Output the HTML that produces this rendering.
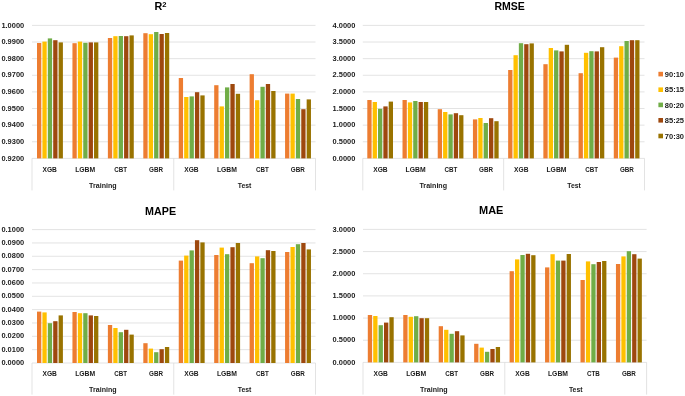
<!DOCTYPE html>
<html lang="en"><head><meta charset="utf-8"><title>Model metrics by split</title>
<style>html,body{margin:0;padding:0;background:#fff}svg{display:block;will-change:transform}text{font-family:"Liberation Sans", Arial, sans-serif;fill:#1a1a1a}.y{font-size:8.1px;text-anchor:end;font-weight:bold}.c{font-size:7.5px;text-anchor:middle;font-weight:bold}.t{font-size:10.8px;text-anchor:middle;font-weight:bold;fill:#000}.l{font-size:8.1px;font-weight:bold}</style></head><body>
<svg width="685" height="396" viewBox="0 0 685 396">
<rect width="685" height="396" fill="#fff"/>
<g>
<line x1="32.0" y1="25.40" x2="315.5" y2="25.40" stroke="#D9D9D9" stroke-width="0.75"/>
<line x1="32.0" y1="42.02" x2="315.5" y2="42.02" stroke="#D9D9D9" stroke-width="0.75"/>
<line x1="32.0" y1="58.65" x2="315.5" y2="58.65" stroke="#D9D9D9" stroke-width="0.75"/>
<line x1="32.0" y1="75.28" x2="315.5" y2="75.28" stroke="#D9D9D9" stroke-width="0.75"/>
<line x1="32.0" y1="91.90" x2="315.5" y2="91.90" stroke="#D9D9D9" stroke-width="0.75"/>
<line x1="32.0" y1="108.53" x2="315.5" y2="108.53" stroke="#D9D9D9" stroke-width="0.75"/>
<line x1="32.0" y1="125.15" x2="315.5" y2="125.15" stroke="#D9D9D9" stroke-width="0.75"/>
<line x1="32.0" y1="141.78" x2="315.5" y2="141.78" stroke="#D9D9D9" stroke-width="0.75"/>
<line x1="32.0" y1="158.40" x2="315.5" y2="158.40" stroke="#D9D9D9" stroke-width="0.75"/>
<line x1="32.00" y1="158.40" x2="32.00" y2="190.40" stroke="#D9D9D9" stroke-width="0.75"/>
<line x1="173.75" y1="158.40" x2="173.75" y2="190.40" stroke="#D9D9D9" stroke-width="0.75"/>
<line x1="315.50" y1="158.40" x2="315.50" y2="190.40" stroke="#D9D9D9" stroke-width="0.75"/>
<rect x="37.00" y="43.00" width="4.30" height="115.40" fill="#ED7D31"/>
<rect x="42.40" y="41.60" width="4.30" height="116.80" fill="#FFC000"/>
<rect x="47.80" y="38.40" width="4.30" height="120.00" fill="#70AD47"/>
<rect x="53.20" y="40.20" width="4.30" height="118.20" fill="#9E480E"/>
<rect x="58.60" y="42.40" width="4.30" height="116.00" fill="#997300"/>
<rect x="72.44" y="43.20" width="4.30" height="115.20" fill="#ED7D31"/>
<rect x="77.84" y="41.60" width="4.30" height="116.80" fill="#FFC000"/>
<rect x="83.24" y="42.80" width="4.30" height="115.60" fill="#70AD47"/>
<rect x="88.64" y="42.40" width="4.30" height="116.00" fill="#9E480E"/>
<rect x="94.04" y="42.40" width="4.30" height="116.00" fill="#997300"/>
<rect x="107.88" y="38.00" width="4.30" height="120.40" fill="#ED7D31"/>
<rect x="113.28" y="36.20" width="4.30" height="122.20" fill="#FFC000"/>
<rect x="118.67" y="36.00" width="4.30" height="122.40" fill="#70AD47"/>
<rect x="124.08" y="36.20" width="4.30" height="122.20" fill="#9E480E"/>
<rect x="129.47" y="35.40" width="4.30" height="123.00" fill="#997300"/>
<rect x="143.31" y="33.20" width="4.30" height="125.20" fill="#ED7D31"/>
<rect x="148.71" y="34.20" width="4.30" height="124.20" fill="#FFC000"/>
<rect x="154.11" y="32.00" width="4.30" height="126.40" fill="#70AD47"/>
<rect x="159.51" y="34.00" width="4.30" height="124.40" fill="#9E480E"/>
<rect x="164.91" y="33.00" width="4.30" height="125.40" fill="#997300"/>
<rect x="178.75" y="78.00" width="4.30" height="80.40" fill="#ED7D31"/>
<rect x="184.15" y="97.00" width="4.30" height="61.40" fill="#FFC000"/>
<rect x="189.55" y="96.40" width="4.30" height="62.00" fill="#70AD47"/>
<rect x="194.95" y="92.20" width="4.30" height="66.20" fill="#9E480E"/>
<rect x="200.35" y="95.40" width="4.30" height="63.00" fill="#997300"/>
<rect x="214.19" y="85.20" width="4.30" height="73.20" fill="#ED7D31"/>
<rect x="219.59" y="106.40" width="4.30" height="52.00" fill="#FFC000"/>
<rect x="224.99" y="87.40" width="4.30" height="71.00" fill="#70AD47"/>
<rect x="230.39" y="84.00" width="4.30" height="74.40" fill="#9E480E"/>
<rect x="235.79" y="93.80" width="4.30" height="64.60" fill="#997300"/>
<rect x="249.62" y="74.20" width="4.30" height="84.20" fill="#ED7D31"/>
<rect x="255.03" y="100.20" width="4.30" height="58.20" fill="#FFC000"/>
<rect x="260.43" y="86.80" width="4.30" height="71.60" fill="#70AD47"/>
<rect x="265.82" y="84.00" width="4.30" height="74.40" fill="#9E480E"/>
<rect x="271.23" y="91.00" width="4.30" height="67.40" fill="#997300"/>
<rect x="285.06" y="93.60" width="4.30" height="64.80" fill="#ED7D31"/>
<rect x="290.46" y="93.60" width="4.30" height="64.80" fill="#FFC000"/>
<rect x="295.86" y="99.00" width="4.30" height="59.40" fill="#70AD47"/>
<rect x="301.26" y="109.20" width="4.30" height="49.20" fill="#9E480E"/>
<rect x="306.66" y="99.40" width="4.30" height="59.00" fill="#997300"/>
<text class="y" x="24.2" y="27.55" textLength="22.8" lengthAdjust="spacingAndGlyphs">1.0000</text>
<text class="y" x="24.2" y="44.17" textLength="22.8" lengthAdjust="spacingAndGlyphs">0.9900</text>
<text class="y" x="24.2" y="60.80" textLength="22.8" lengthAdjust="spacingAndGlyphs">0.9800</text>
<text class="y" x="24.2" y="77.43" textLength="22.8" lengthAdjust="spacingAndGlyphs">0.9700</text>
<text class="y" x="24.2" y="94.05" textLength="22.8" lengthAdjust="spacingAndGlyphs">0.9600</text>
<text class="y" x="24.2" y="110.68" textLength="22.8" lengthAdjust="spacingAndGlyphs">0.9500</text>
<text class="y" x="24.2" y="127.30" textLength="22.8" lengthAdjust="spacingAndGlyphs">0.9400</text>
<text class="y" x="24.2" y="143.93" textLength="22.8" lengthAdjust="spacingAndGlyphs">0.9300</text>
<text class="y" x="24.2" y="160.55" textLength="22.8" lengthAdjust="spacingAndGlyphs">0.9200</text>
<text class="c" x="49.72" y="171.50" textLength="14.4" lengthAdjust="spacingAndGlyphs">XGB</text>
<text class="c" x="85.16" y="171.50" textLength="20.0" lengthAdjust="spacingAndGlyphs">LGBM</text>
<text class="c" x="120.59" y="171.50" textLength="12.8" lengthAdjust="spacingAndGlyphs">CBT</text>
<text class="c" x="156.03" y="171.50" textLength="14.0" lengthAdjust="spacingAndGlyphs">GBR</text>
<text class="c" x="191.47" y="171.50" textLength="14.4" lengthAdjust="spacingAndGlyphs">XGB</text>
<text class="c" x="226.91" y="171.50" textLength="20.0" lengthAdjust="spacingAndGlyphs">LGBM</text>
<text class="c" x="262.34" y="171.50" textLength="12.8" lengthAdjust="spacingAndGlyphs">CBT</text>
<text class="c" x="297.78" y="171.50" textLength="14.0" lengthAdjust="spacingAndGlyphs">GBR</text>
<text class="c" x="102.88" y="187.80" textLength="27.6" lengthAdjust="spacingAndGlyphs">Training</text>
<text class="c" x="244.62" y="187.80" textLength="13.6" lengthAdjust="spacingAndGlyphs">Test</text>
<text class="t" x="160.50" y="10.00">R<tspan dy="-3.3" font-size="7.6px">2</tspan></text>
</g>
<g>
<line x1="362.8" y1="25.40" x2="644.5" y2="25.40" stroke="#D9D9D9" stroke-width="0.75"/>
<line x1="362.8" y1="42.02" x2="644.5" y2="42.02" stroke="#D9D9D9" stroke-width="0.75"/>
<line x1="362.8" y1="58.65" x2="644.5" y2="58.65" stroke="#D9D9D9" stroke-width="0.75"/>
<line x1="362.8" y1="75.28" x2="644.5" y2="75.28" stroke="#D9D9D9" stroke-width="0.75"/>
<line x1="362.8" y1="91.90" x2="644.5" y2="91.90" stroke="#D9D9D9" stroke-width="0.75"/>
<line x1="362.8" y1="108.53" x2="644.5" y2="108.53" stroke="#D9D9D9" stroke-width="0.75"/>
<line x1="362.8" y1="125.15" x2="644.5" y2="125.15" stroke="#D9D9D9" stroke-width="0.75"/>
<line x1="362.8" y1="141.78" x2="644.5" y2="141.78" stroke="#D9D9D9" stroke-width="0.75"/>
<line x1="362.8" y1="158.40" x2="644.5" y2="158.40" stroke="#D9D9D9" stroke-width="0.75"/>
<line x1="362.80" y1="158.40" x2="362.80" y2="190.40" stroke="#D9D9D9" stroke-width="0.75"/>
<line x1="503.65" y1="158.40" x2="503.65" y2="190.40" stroke="#D9D9D9" stroke-width="0.75"/>
<line x1="644.50" y1="158.40" x2="644.50" y2="190.40" stroke="#D9D9D9" stroke-width="0.75"/>
<rect x="367.30" y="100.00" width="4.30" height="58.40" fill="#ED7D31"/>
<rect x="372.65" y="102.00" width="4.30" height="56.40" fill="#FFC000"/>
<rect x="378.00" y="108.80" width="4.30" height="49.60" fill="#70AD47"/>
<rect x="383.35" y="106.40" width="4.30" height="52.00" fill="#9E480E"/>
<rect x="388.70" y="101.60" width="4.30" height="56.80" fill="#997300"/>
<rect x="402.51" y="100.00" width="4.30" height="58.40" fill="#ED7D31"/>
<rect x="407.86" y="102.40" width="4.30" height="56.00" fill="#FFC000"/>
<rect x="413.21" y="101.00" width="4.30" height="57.40" fill="#70AD47"/>
<rect x="418.56" y="102.00" width="4.30" height="56.40" fill="#9E480E"/>
<rect x="423.91" y="102.00" width="4.30" height="56.40" fill="#997300"/>
<rect x="437.73" y="109.20" width="4.30" height="49.20" fill="#ED7D31"/>
<rect x="443.08" y="112.00" width="4.30" height="46.40" fill="#FFC000"/>
<rect x="448.43" y="114.40" width="4.30" height="44.00" fill="#70AD47"/>
<rect x="453.78" y="113.20" width="4.30" height="45.20" fill="#9E480E"/>
<rect x="459.12" y="115.20" width="4.30" height="43.20" fill="#997300"/>
<rect x="472.94" y="119.40" width="4.30" height="39.00" fill="#ED7D31"/>
<rect x="478.29" y="118.00" width="4.30" height="40.40" fill="#FFC000"/>
<rect x="483.64" y="123.00" width="4.30" height="35.40" fill="#70AD47"/>
<rect x="488.99" y="118.20" width="4.30" height="40.20" fill="#9E480E"/>
<rect x="494.34" y="121.20" width="4.30" height="37.20" fill="#997300"/>
<rect x="508.15" y="70.00" width="4.30" height="88.40" fill="#ED7D31"/>
<rect x="513.50" y="55.20" width="4.30" height="103.20" fill="#FFC000"/>
<rect x="518.85" y="43.20" width="4.30" height="115.20" fill="#70AD47"/>
<rect x="524.20" y="44.20" width="4.30" height="114.20" fill="#9E480E"/>
<rect x="529.55" y="43.40" width="4.30" height="115.00" fill="#997300"/>
<rect x="543.36" y="64.20" width="4.30" height="94.20" fill="#ED7D31"/>
<rect x="548.71" y="48.00" width="4.30" height="110.40" fill="#FFC000"/>
<rect x="554.06" y="50.40" width="4.30" height="108.00" fill="#70AD47"/>
<rect x="559.41" y="51.40" width="4.30" height="107.00" fill="#9E480E"/>
<rect x="564.76" y="44.80" width="4.30" height="113.60" fill="#997300"/>
<rect x="578.58" y="73.20" width="4.30" height="85.20" fill="#ED7D31"/>
<rect x="583.93" y="52.80" width="4.30" height="105.60" fill="#FFC000"/>
<rect x="589.28" y="51.20" width="4.30" height="107.20" fill="#70AD47"/>
<rect x="594.62" y="51.40" width="4.30" height="107.00" fill="#9E480E"/>
<rect x="599.98" y="47.20" width="4.30" height="111.20" fill="#997300"/>
<rect x="613.79" y="57.60" width="4.30" height="100.80" fill="#ED7D31"/>
<rect x="619.14" y="46.20" width="4.30" height="112.20" fill="#FFC000"/>
<rect x="624.49" y="41.00" width="4.30" height="117.40" fill="#70AD47"/>
<rect x="629.84" y="40.20" width="4.30" height="118.20" fill="#9E480E"/>
<rect x="635.19" y="40.20" width="4.30" height="118.20" fill="#997300"/>
<text class="y" x="355.4" y="27.55" textLength="22.8" lengthAdjust="spacingAndGlyphs">4.0000</text>
<text class="y" x="355.4" y="44.17" textLength="22.8" lengthAdjust="spacingAndGlyphs">3.5000</text>
<text class="y" x="355.4" y="60.80" textLength="22.8" lengthAdjust="spacingAndGlyphs">3.0000</text>
<text class="y" x="355.4" y="77.43" textLength="22.8" lengthAdjust="spacingAndGlyphs">2.5000</text>
<text class="y" x="355.4" y="94.05" textLength="22.8" lengthAdjust="spacingAndGlyphs">2.0000</text>
<text class="y" x="355.4" y="110.68" textLength="22.8" lengthAdjust="spacingAndGlyphs">1.5000</text>
<text class="y" x="355.4" y="127.30" textLength="22.8" lengthAdjust="spacingAndGlyphs">1.0000</text>
<text class="y" x="355.4" y="143.93" textLength="22.8" lengthAdjust="spacingAndGlyphs">0.5000</text>
<text class="y" x="355.4" y="160.55" textLength="22.8" lengthAdjust="spacingAndGlyphs">0.0000</text>
<text class="c" x="380.41" y="171.50" textLength="14.4" lengthAdjust="spacingAndGlyphs">XGB</text>
<text class="c" x="415.62" y="171.50" textLength="20.0" lengthAdjust="spacingAndGlyphs">LGBM</text>
<text class="c" x="450.83" y="171.50" textLength="12.8" lengthAdjust="spacingAndGlyphs">CBT</text>
<text class="c" x="486.04" y="171.50" textLength="14.0" lengthAdjust="spacingAndGlyphs">GBR</text>
<text class="c" x="521.26" y="171.50" textLength="14.4" lengthAdjust="spacingAndGlyphs">XGB</text>
<text class="c" x="556.47" y="171.50" textLength="20.0" lengthAdjust="spacingAndGlyphs">LGBM</text>
<text class="c" x="591.68" y="171.50" textLength="12.8" lengthAdjust="spacingAndGlyphs">CBT</text>
<text class="c" x="626.89" y="171.50" textLength="14.0" lengthAdjust="spacingAndGlyphs">GBR</text>
<text class="c" x="433.23" y="187.80" textLength="27.6" lengthAdjust="spacingAndGlyphs">Training</text>
<text class="c" x="574.08" y="187.80" textLength="13.6" lengthAdjust="spacingAndGlyphs">Test</text>
<text class="t" x="509.70" y="10.00" textLength="30.4" lengthAdjust="spacingAndGlyphs">RMSE</text>
</g>
<g>
<line x1="32.0" y1="229.60" x2="315.5" y2="229.60" stroke="#D9D9D9" stroke-width="0.75"/>
<line x1="32.0" y1="242.94" x2="315.5" y2="242.94" stroke="#D9D9D9" stroke-width="0.75"/>
<line x1="32.0" y1="256.28" x2="315.5" y2="256.28" stroke="#D9D9D9" stroke-width="0.75"/>
<line x1="32.0" y1="269.62" x2="315.5" y2="269.62" stroke="#D9D9D9" stroke-width="0.75"/>
<line x1="32.0" y1="282.96" x2="315.5" y2="282.96" stroke="#D9D9D9" stroke-width="0.75"/>
<line x1="32.0" y1="296.30" x2="315.5" y2="296.30" stroke="#D9D9D9" stroke-width="0.75"/>
<line x1="32.0" y1="309.64" x2="315.5" y2="309.64" stroke="#D9D9D9" stroke-width="0.75"/>
<line x1="32.0" y1="322.98" x2="315.5" y2="322.98" stroke="#D9D9D9" stroke-width="0.75"/>
<line x1="32.0" y1="336.32" x2="315.5" y2="336.32" stroke="#D9D9D9" stroke-width="0.75"/>
<line x1="32.0" y1="349.66" x2="315.5" y2="349.66" stroke="#D9D9D9" stroke-width="0.75"/>
<line x1="32.0" y1="363.00" x2="315.5" y2="363.00" stroke="#D9D9D9" stroke-width="0.75"/>
<line x1="32.00" y1="363.00" x2="32.00" y2="394.60" stroke="#D9D9D9" stroke-width="0.75"/>
<line x1="173.75" y1="363.00" x2="173.75" y2="394.60" stroke="#D9D9D9" stroke-width="0.75"/>
<line x1="315.50" y1="363.00" x2="315.50" y2="394.60" stroke="#D9D9D9" stroke-width="0.75"/>
<rect x="37.00" y="311.60" width="4.30" height="51.40" fill="#ED7D31"/>
<rect x="42.40" y="312.40" width="4.30" height="50.60" fill="#FFC000"/>
<rect x="47.80" y="323.20" width="4.30" height="39.80" fill="#70AD47"/>
<rect x="53.20" y="321.20" width="4.30" height="41.80" fill="#9E480E"/>
<rect x="58.60" y="315.40" width="4.30" height="47.60" fill="#997300"/>
<rect x="72.44" y="312.00" width="4.30" height="51.00" fill="#ED7D31"/>
<rect x="77.84" y="313.20" width="4.30" height="49.80" fill="#FFC000"/>
<rect x="83.24" y="313.20" width="4.30" height="49.80" fill="#70AD47"/>
<rect x="88.64" y="315.40" width="4.30" height="47.60" fill="#9E480E"/>
<rect x="94.04" y="316.00" width="4.30" height="47.00" fill="#997300"/>
<rect x="107.88" y="325.00" width="4.30" height="38.00" fill="#ED7D31"/>
<rect x="113.28" y="328.00" width="4.30" height="35.00" fill="#FFC000"/>
<rect x="118.67" y="332.20" width="4.30" height="30.80" fill="#70AD47"/>
<rect x="124.08" y="329.80" width="4.30" height="33.20" fill="#9E480E"/>
<rect x="129.47" y="334.60" width="4.30" height="28.40" fill="#997300"/>
<rect x="143.31" y="343.20" width="4.30" height="19.80" fill="#ED7D31"/>
<rect x="148.71" y="348.60" width="4.30" height="14.40" fill="#FFC000"/>
<rect x="154.11" y="352.20" width="4.30" height="10.80" fill="#70AD47"/>
<rect x="159.51" y="349.20" width="4.30" height="13.80" fill="#9E480E"/>
<rect x="164.91" y="347.00" width="4.30" height="16.00" fill="#997300"/>
<rect x="178.75" y="260.60" width="4.30" height="102.40" fill="#ED7D31"/>
<rect x="184.15" y="255.60" width="4.30" height="107.40" fill="#FFC000"/>
<rect x="189.55" y="250.40" width="4.30" height="112.60" fill="#70AD47"/>
<rect x="194.95" y="240.20" width="4.30" height="122.80" fill="#9E480E"/>
<rect x="200.35" y="242.40" width="4.30" height="120.60" fill="#997300"/>
<rect x="214.19" y="255.00" width="4.30" height="108.00" fill="#ED7D31"/>
<rect x="219.59" y="247.60" width="4.30" height="115.40" fill="#FFC000"/>
<rect x="224.99" y="254.20" width="4.30" height="108.80" fill="#70AD47"/>
<rect x="230.39" y="247.20" width="4.30" height="115.80" fill="#9E480E"/>
<rect x="235.79" y="243.00" width="4.30" height="120.00" fill="#997300"/>
<rect x="249.62" y="263.20" width="4.30" height="99.80" fill="#ED7D31"/>
<rect x="255.03" y="256.40" width="4.30" height="106.60" fill="#FFC000"/>
<rect x="260.43" y="258.20" width="4.30" height="104.80" fill="#70AD47"/>
<rect x="265.82" y="250.20" width="4.30" height="112.80" fill="#9E480E"/>
<rect x="271.23" y="251.00" width="4.30" height="112.00" fill="#997300"/>
<rect x="285.06" y="252.00" width="4.30" height="111.00" fill="#ED7D31"/>
<rect x="290.46" y="247.00" width="4.30" height="116.00" fill="#FFC000"/>
<rect x="295.86" y="244.20" width="4.30" height="118.80" fill="#70AD47"/>
<rect x="301.26" y="243.00" width="4.30" height="120.00" fill="#9E480E"/>
<rect x="306.66" y="249.40" width="4.30" height="113.60" fill="#997300"/>
<text class="y" x="24.2" y="231.75" textLength="22.8" lengthAdjust="spacingAndGlyphs">0.1000</text>
<text class="y" x="24.2" y="245.09" textLength="22.8" lengthAdjust="spacingAndGlyphs">0.0900</text>
<text class="y" x="24.2" y="258.43" textLength="22.8" lengthAdjust="spacingAndGlyphs">0.0800</text>
<text class="y" x="24.2" y="271.77" textLength="22.8" lengthAdjust="spacingAndGlyphs">0.0700</text>
<text class="y" x="24.2" y="285.11" textLength="22.8" lengthAdjust="spacingAndGlyphs">0.0600</text>
<text class="y" x="24.2" y="298.45" textLength="22.8" lengthAdjust="spacingAndGlyphs">0.0500</text>
<text class="y" x="24.2" y="311.79" textLength="22.8" lengthAdjust="spacingAndGlyphs">0.0400</text>
<text class="y" x="24.2" y="325.13" textLength="22.8" lengthAdjust="spacingAndGlyphs">0.0300</text>
<text class="y" x="24.2" y="338.47" textLength="22.8" lengthAdjust="spacingAndGlyphs">0.0200</text>
<text class="y" x="24.2" y="351.81" textLength="22.8" lengthAdjust="spacingAndGlyphs">0.0100</text>
<text class="y" x="24.2" y="365.15" textLength="22.8" lengthAdjust="spacingAndGlyphs">0.0000</text>
<text class="c" x="49.72" y="376.20" textLength="14.4" lengthAdjust="spacingAndGlyphs">XGB</text>
<text class="c" x="85.16" y="376.20" textLength="20.0" lengthAdjust="spacingAndGlyphs">LGBM</text>
<text class="c" x="120.59" y="376.20" textLength="12.8" lengthAdjust="spacingAndGlyphs">CBT</text>
<text class="c" x="156.03" y="376.20" textLength="14.0" lengthAdjust="spacingAndGlyphs">GBR</text>
<text class="c" x="191.47" y="376.20" textLength="14.4" lengthAdjust="spacingAndGlyphs">XGB</text>
<text class="c" x="226.91" y="376.20" textLength="20.0" lengthAdjust="spacingAndGlyphs">LGBM</text>
<text class="c" x="262.34" y="376.20" textLength="12.8" lengthAdjust="spacingAndGlyphs">CBT</text>
<text class="c" x="297.78" y="376.20" textLength="14.0" lengthAdjust="spacingAndGlyphs">GBR</text>
<text class="c" x="102.88" y="392.00" textLength="27.6" lengthAdjust="spacingAndGlyphs">Training</text>
<text class="c" x="244.62" y="392.00" textLength="13.6" lengthAdjust="spacingAndGlyphs">Test</text>
<text class="t" x="160.60" y="215.20" textLength="31.0" lengthAdjust="spacingAndGlyphs">MAPE</text>
</g>
<g>
<line x1="363.0" y1="229.40" x2="646.6" y2="229.40" stroke="#D9D9D9" stroke-width="0.75"/>
<line x1="363.0" y1="251.57" x2="646.6" y2="251.57" stroke="#D9D9D9" stroke-width="0.75"/>
<line x1="363.0" y1="273.73" x2="646.6" y2="273.73" stroke="#D9D9D9" stroke-width="0.75"/>
<line x1="363.0" y1="295.90" x2="646.6" y2="295.90" stroke="#D9D9D9" stroke-width="0.75"/>
<line x1="363.0" y1="318.07" x2="646.6" y2="318.07" stroke="#D9D9D9" stroke-width="0.75"/>
<line x1="363.0" y1="340.23" x2="646.6" y2="340.23" stroke="#D9D9D9" stroke-width="0.75"/>
<line x1="363.0" y1="362.40" x2="646.6" y2="362.40" stroke="#D9D9D9" stroke-width="0.75"/>
<line x1="363.00" y1="362.40" x2="363.00" y2="394.60" stroke="#D9D9D9" stroke-width="0.75"/>
<line x1="504.80" y1="362.40" x2="504.80" y2="394.60" stroke="#D9D9D9" stroke-width="0.75"/>
<line x1="646.60" y1="362.40" x2="646.60" y2="394.60" stroke="#D9D9D9" stroke-width="0.75"/>
<rect x="367.80" y="315.00" width="4.30" height="47.40" fill="#ED7D31"/>
<rect x="373.20" y="316.00" width="4.30" height="46.40" fill="#FFC000"/>
<rect x="378.60" y="325.20" width="4.30" height="37.20" fill="#70AD47"/>
<rect x="384.00" y="322.60" width="4.30" height="39.80" fill="#9E480E"/>
<rect x="389.40" y="317.20" width="4.30" height="45.20" fill="#997300"/>
<rect x="403.25" y="315.00" width="4.30" height="47.40" fill="#ED7D31"/>
<rect x="408.65" y="316.80" width="4.30" height="45.60" fill="#FFC000"/>
<rect x="414.05" y="316.20" width="4.30" height="46.20" fill="#70AD47"/>
<rect x="419.45" y="318.20" width="4.30" height="44.20" fill="#9E480E"/>
<rect x="424.85" y="318.20" width="4.30" height="44.20" fill="#997300"/>
<rect x="438.70" y="326.20" width="4.30" height="36.20" fill="#ED7D31"/>
<rect x="444.10" y="329.80" width="4.30" height="32.60" fill="#FFC000"/>
<rect x="449.50" y="333.80" width="4.30" height="28.60" fill="#70AD47"/>
<rect x="454.90" y="331.20" width="4.30" height="31.20" fill="#9E480E"/>
<rect x="460.30" y="335.40" width="4.30" height="27.00" fill="#997300"/>
<rect x="474.15" y="343.80" width="4.30" height="18.60" fill="#ED7D31"/>
<rect x="479.55" y="347.60" width="4.30" height="14.80" fill="#FFC000"/>
<rect x="484.95" y="351.80" width="4.30" height="10.60" fill="#70AD47"/>
<rect x="490.35" y="349.00" width="4.30" height="13.40" fill="#9E480E"/>
<rect x="495.75" y="347.00" width="4.30" height="15.40" fill="#997300"/>
<rect x="509.60" y="271.20" width="4.30" height="91.20" fill="#ED7D31"/>
<rect x="515.00" y="259.40" width="4.30" height="103.00" fill="#FFC000"/>
<rect x="520.40" y="255.00" width="4.30" height="107.40" fill="#70AD47"/>
<rect x="525.80" y="253.80" width="4.30" height="108.60" fill="#9E480E"/>
<rect x="531.20" y="255.20" width="4.30" height="107.20" fill="#997300"/>
<rect x="545.05" y="267.40" width="4.30" height="95.00" fill="#ED7D31"/>
<rect x="550.45" y="254.20" width="4.30" height="108.20" fill="#FFC000"/>
<rect x="555.85" y="260.60" width="4.30" height="101.80" fill="#70AD47"/>
<rect x="561.25" y="260.60" width="4.30" height="101.80" fill="#9E480E"/>
<rect x="566.65" y="254.00" width="4.30" height="108.40" fill="#997300"/>
<rect x="580.50" y="280.00" width="4.30" height="82.40" fill="#ED7D31"/>
<rect x="585.90" y="261.40" width="4.30" height="101.00" fill="#FFC000"/>
<rect x="591.30" y="264.20" width="4.30" height="98.20" fill="#70AD47"/>
<rect x="596.70" y="262.00" width="4.30" height="100.40" fill="#9E480E"/>
<rect x="602.10" y="261.00" width="4.30" height="101.40" fill="#997300"/>
<rect x="615.95" y="264.00" width="4.30" height="98.40" fill="#ED7D31"/>
<rect x="621.35" y="256.40" width="4.30" height="106.00" fill="#FFC000"/>
<rect x="626.75" y="251.20" width="4.30" height="111.20" fill="#70AD47"/>
<rect x="632.15" y="254.20" width="4.30" height="108.20" fill="#9E480E"/>
<rect x="637.55" y="258.60" width="4.30" height="103.80" fill="#997300"/>
<text class="y" x="355.4" y="231.55" textLength="22.8" lengthAdjust="spacingAndGlyphs">3.0000</text>
<text class="y" x="355.4" y="253.72" textLength="22.8" lengthAdjust="spacingAndGlyphs">2.5000</text>
<text class="y" x="355.4" y="275.88" textLength="22.8" lengthAdjust="spacingAndGlyphs">2.0000</text>
<text class="y" x="355.4" y="298.05" textLength="22.8" lengthAdjust="spacingAndGlyphs">1.5000</text>
<text class="y" x="355.4" y="320.22" textLength="22.8" lengthAdjust="spacingAndGlyphs">1.0000</text>
<text class="y" x="355.4" y="342.38" textLength="22.8" lengthAdjust="spacingAndGlyphs">0.5000</text>
<text class="y" x="355.4" y="364.55" textLength="22.8" lengthAdjust="spacingAndGlyphs">0.0000</text>
<text class="c" x="380.73" y="375.50" textLength="14.4" lengthAdjust="spacingAndGlyphs">XGB</text>
<text class="c" x="416.18" y="375.50" textLength="20.0" lengthAdjust="spacingAndGlyphs">LGBM</text>
<text class="c" x="451.62" y="375.50" textLength="12.8" lengthAdjust="spacingAndGlyphs">CBT</text>
<text class="c" x="487.08" y="375.50" textLength="14.0" lengthAdjust="spacingAndGlyphs">GBR</text>
<text class="c" x="522.52" y="375.50" textLength="14.4" lengthAdjust="spacingAndGlyphs">XGB</text>
<text class="c" x="557.98" y="375.50" textLength="20.0" lengthAdjust="spacingAndGlyphs">LGBM</text>
<text class="c" x="593.42" y="375.50" textLength="12.8" lengthAdjust="spacingAndGlyphs">CTB</text>
<text class="c" x="628.88" y="375.50" textLength="14.0" lengthAdjust="spacingAndGlyphs">GBR</text>
<text class="c" x="433.90" y="391.50" textLength="27.6" lengthAdjust="spacingAndGlyphs">Training</text>
<text class="c" x="575.70" y="391.50" textLength="13.6" lengthAdjust="spacingAndGlyphs">Test</text>
<text class="t" x="491.20" y="214.00" textLength="24.4" lengthAdjust="spacingAndGlyphs">MAE</text>
</g>
<g>
<rect x="658.4" y="71.80" width="4.6" height="4.6" fill="#ED7D31"/>
<text class="l" x="664.8" y="76.80" textLength="19.2" lengthAdjust="spacingAndGlyphs">90:10</text>
<rect x="658.4" y="87.40" width="4.6" height="4.6" fill="#FFC000"/>
<text class="l" x="664.8" y="92.40" textLength="19.2" lengthAdjust="spacingAndGlyphs">85:15</text>
<rect x="658.4" y="102.60" width="4.6" height="4.6" fill="#70AD47"/>
<text class="l" x="664.8" y="107.60" textLength="19.2" lengthAdjust="spacingAndGlyphs">80:20</text>
<rect x="658.4" y="118.00" width="4.6" height="4.6" fill="#9E480E"/>
<text class="l" x="664.8" y="123.00" textLength="19.2" lengthAdjust="spacingAndGlyphs">85:25</text>
<rect x="658.4" y="133.70" width="4.6" height="4.6" fill="#997300"/>
<text class="l" x="664.8" y="138.70" textLength="19.2" lengthAdjust="spacingAndGlyphs">70:30</text>
</g>
</svg></body></html>
